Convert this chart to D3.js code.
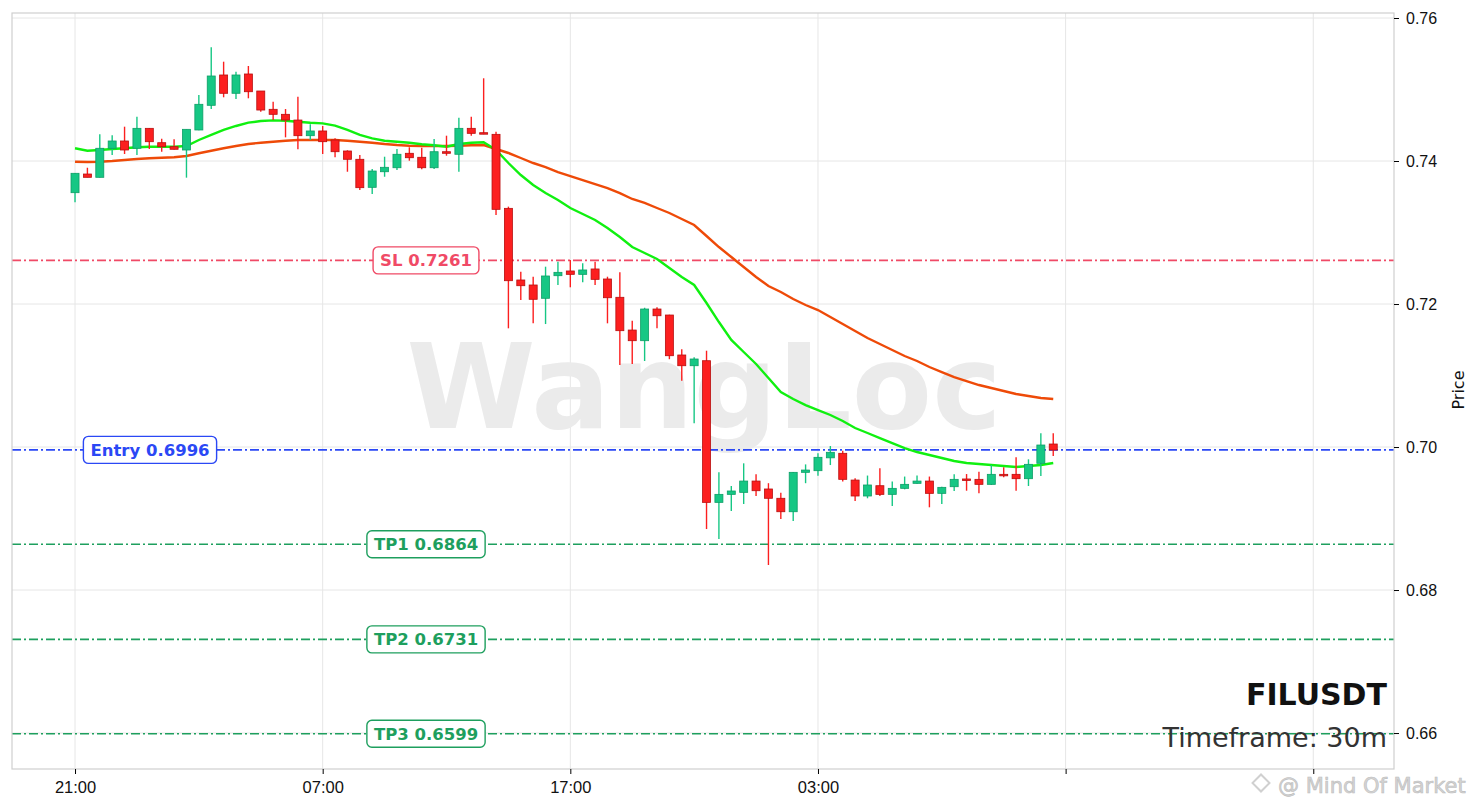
<!DOCTYPE html>
<html>
<head>
<meta charset="utf-8">
<script src="https://cdn.jsdelivr.net/npm/d3@7"></script>
<style>
  html, body { margin: 0; padding: 0; background: #ffffff; }
  svg { display: block; font-family: "DejaVu Sans", sans-serif; }
</style>
</head>
<body>
<div id="chart"></div>
<script>
///////////////////////////////////////////////////////////////////////////////////////////////////
// FILUSDT 30m candles

var opens  = [0.73557, 0.73818, 0.73772, 0.74178, 0.74280, 0.74178, 0.74457, 0.74256, 0.74200, 0.74154,
              0.74434, 0.74779, 0.75203, 0.74947, 0.75217, 0.74979, 0.74723, 0.74653, 0.74573, 0.74354,
              0.74420, 0.74294, 0.74140, 0.74024, 0.73632, 0.73850, 0.73906, 0.74108, 0.74052, 0.73906,
              0.74130, 0.74094, 0.74457, 0.74396, 0.74373, 0.73338, 0.72336, 0.72266, 0.72080, 0.72396,
              0.72462, 0.72415, 0.72490, 0.72350, 0.72094, 0.71636, 0.71487, 0.71930, 0.71846, 0.71287,
              0.71137, 0.71207, 0.69226, 0.69338, 0.69366, 0.69524, 0.69413, 0.69283, 0.69095, 0.69646,
              0.69669, 0.69849, 0.69912, 0.69538, 0.69315, 0.69459, 0.69338, 0.69422, 0.69492, 0.69524,
              0.69352, 0.69445, 0.69553, 0.69548, 0.69478, 0.69618, 0.69618, 0.69557, 0.69772, 0.70042];
var highs  = [0.73830, 0.73906, 0.74373, 0.74359, 0.74480, 0.74620, 0.74460, 0.74312, 0.74303, 0.74443,
              0.74923, 0.75590, 0.75389, 0.75249, 0.75329, 0.74980, 0.74829, 0.74727, 0.74899, 0.74513,
              0.74490, 0.74320, 0.74150, 0.74084, 0.73888, 0.74060, 0.74168, 0.74192, 0.74186, 0.74308,
              0.74354, 0.74606, 0.74620, 0.75157, 0.74410, 0.73362, 0.72452, 0.72382, 0.72522, 0.72592,
              0.72615, 0.72569, 0.72592, 0.72382, 0.72443, 0.71767, 0.71948, 0.71954, 0.71850, 0.71366,
              0.71255, 0.71347, 0.69646, 0.69455, 0.69772, 0.69618, 0.69494, 0.69361, 0.69650, 0.69757,
              0.69912, 0.70014, 0.69948, 0.69562, 0.69601, 0.69703, 0.69517, 0.69587, 0.69601, 0.69587,
              0.69445, 0.69618, 0.69622, 0.69655, 0.69748, 0.69716, 0.69856, 0.69828, 0.70191, 0.70191];
var lows   = [0.73422, 0.73772, 0.73770, 0.74084, 0.74098, 0.74084, 0.74168, 0.74130, 0.74160, 0.73767,
              0.74430, 0.74727, 0.74891, 0.74867, 0.74877, 0.74690, 0.74573, 0.74331, 0.74164, 0.74294,
              0.74098, 0.74052, 0.73850, 0.73594, 0.73538, 0.73780, 0.73874, 0.74004, 0.73884, 0.73890,
              0.74074, 0.73850, 0.74354, 0.74375, 0.73245, 0.71660, 0.72056, 0.71730, 0.71720, 0.72266,
              0.72234, 0.72304, 0.72266, 0.71730, 0.71147, 0.71161, 0.71203, 0.71660, 0.71228, 0.70927,
              0.70331, 0.68853, 0.68713, 0.69105, 0.69203, 0.69315, 0.68350, 0.68993, 0.68965, 0.69494,
              0.69599, 0.69748, 0.69517, 0.69245, 0.69283, 0.69315, 0.69175, 0.69408, 0.69485, 0.69157,
              0.69203, 0.69385, 0.69389, 0.69352, 0.69470, 0.69576, 0.69389, 0.69455, 0.69594, 0.69874];
var closes = [0.73828, 0.73772, 0.74178, 0.74280, 0.74154, 0.74457, 0.74270, 0.74200, 0.74164, 0.74443,
              0.74793, 0.75189, 0.74947, 0.75203, 0.74969, 0.74713, 0.74653, 0.74573, 0.74354, 0.74420,
              0.74270, 0.74130, 0.74024, 0.73627, 0.73860, 0.73912, 0.74094, 0.74046, 0.73906, 0.74130,
              0.74108, 0.74457, 0.74387, 0.74378, 0.73324, 0.72326, 0.72256, 0.72066, 0.72392, 0.72443,
              0.72415, 0.72476, 0.72345, 0.72088, 0.71627, 0.71487, 0.71930, 0.71836, 0.71277, 0.71137,
              0.71231, 0.69226, 0.69338, 0.69385, 0.69524, 0.69389, 0.69283, 0.69095, 0.69646, 0.69678,
              0.69856, 0.69926, 0.69548, 0.69315, 0.69469, 0.69338, 0.69422, 0.69478, 0.69524, 0.69352,
              0.69436, 0.69548, 0.69543, 0.69478, 0.69618, 0.69608, 0.69557, 0.69758, 0.70028, 0.69958];

// fast (green) and slow (orange) moving averages
var ma_fast = [0.74178, 0.74144, 0.74154, 0.74168, 0.74178, 0.74192, 0.74200, 0.74200, 0.74200, 0.74210,
               0.74294, 0.74364, 0.74434, 0.74490, 0.74536, 0.74559, 0.74569, 0.74564, 0.74550, 0.74536,
               0.74527, 0.74494, 0.74434, 0.74364, 0.74317, 0.74284, 0.74270, 0.74256, 0.74234, 0.74220,
               0.74200, 0.74238, 0.74256, 0.74262, 0.74154, 0.73972, 0.73804, 0.73664, 0.73552, 0.73455,
               0.73343, 0.73259, 0.73175, 0.73063, 0.72937, 0.72797, 0.72713, 0.72629, 0.72503, 0.72378,
               0.72266, 0.72014, 0.71748, 0.71497, 0.71329, 0.71161, 0.70965, 0.70769, 0.70671, 0.70587,
               0.70517, 0.70448, 0.70364, 0.70266, 0.70196, 0.70126, 0.70056, 0.69986, 0.69930, 0.69888,
               0.69846, 0.69804, 0.69776, 0.69762, 0.69748, 0.69734, 0.69720, 0.69734, 0.69748, 0.69776];
var ma_slow = [0.73990, 0.73986, 0.73990, 0.74000, 0.74014, 0.74028, 0.74038, 0.74046, 0.74052, 0.74070,
               0.74108, 0.74144, 0.74178, 0.74210, 0.74238, 0.74256, 0.74270, 0.74284, 0.74294, 0.74294,
               0.74294, 0.74294, 0.74284, 0.74270, 0.74256, 0.74238, 0.74224, 0.74214, 0.74210, 0.74210,
               0.74210, 0.74214, 0.74220, 0.74224, 0.74168, 0.74112, 0.74042, 0.73972, 0.73916, 0.73846,
               0.73790, 0.73734, 0.73678, 0.73622, 0.73552, 0.73469, 0.73413, 0.73343, 0.73273, 0.73189,
               0.73105, 0.72951, 0.72797, 0.72657, 0.72517, 0.72378, 0.72252, 0.72168, 0.72070, 0.71986,
               0.71916, 0.71818, 0.71720, 0.71622, 0.71524, 0.71441, 0.71357, 0.71273, 0.71203, 0.71119,
               0.71049, 0.70979, 0.70923, 0.70867, 0.70825, 0.70783, 0.70741, 0.70713, 0.70685, 0.70671];

// trade levels
var level_names  = ["SL", "Entry", "TP1", "TP2", "TP3"];
var level_prices = [0.7261, 0.6996, 0.6864, 0.6731, 0.6599];

// x axis: candle index of each tick and its label
var x_tick_index  = [0, 20, 40, 60, 80, 100];
var x_tick_labels = ["21:00", "07:00", "17:00", "03:00", "", ""];
var y_tick_values = [0.66, 0.68, 0.70, 0.72, 0.74, 0.76];

var symbol_name = "FILUSDT";
var timeframe   = "Timeframe: 30m";

///////////////////////////////////////////////////////////////////////////////////////////////////

function draw_chart(element_id) {

    var svg_width  = 1479;
    var svg_height = 809;
    var plot = { left: 12, right: 1394, top: 13, bottom: 769 };

    var color_up   = "#16c784";
    var color_up_edge = "#0d9e66";
    var color_down = "#fc1f1f";
    var color_down_edge = "#b80e0e";
    var level_colors = ["#f04a66", "#2b48f5", "#1e9f5e", "#1e9f5e", "#1e9f5e"];
    var label_x = [426, 150, 426, 426, 426];

    var svg = d3.select('#' + element_id)
      .append("svg")
        .attr("width",  svg_width)
        .attr("height", svg_height);

    var x = d3.scaleLinear()
        .domain([-5.09, 106.52])
        .range([plot.left, plot.right]);

    var y = d3.scaleLinear()
        .domain([0.65497, 0.7607])
        .range([plot.bottom, plot.top]);

    // grid
    var grid = svg.append("g");
    grid.selectAll(".vgrid")
        .data(x_tick_index)
        .join("line")
            .attr("x1", function(d) { return x(d); })
            .attr("x2", function(d) { return x(d); })
            .attr("y1", plot.top)
            .attr("y2", plot.bottom)
            .attr("stroke", "#e6e6e6")
            .attr("stroke-width", 1);
    grid.selectAll(".hgrid")
        .data(y_tick_values)
        .join("line")
            .attr("x1", plot.left)
            .attr("x2", plot.right)
            .attr("y1", function(d) { return y(d); })
            .attr("y2", function(d) { return y(d); })
            .attr("stroke", "#e6e6e6")
            .attr("stroke-width", 1);

    // watermark
    svg.append("text")
        .attr("x", 704)
        .attr("y", 428)
        .attr("text-anchor", "middle")
        .style("font-size", "117px")
        .style("font-weight", "bold")
        .style("fill", "#ebebeb")
        .text("WangLoc");

    // level lines
    svg.append("g").selectAll("line")
        .data(level_prices)
        .join("line")
            .attr("x1", plot.left)
            .attr("x2", plot.right)
            .attr("y1", function(d) { return y(d); })
            .attr("y2", function(d) { return y(d); })
            .attr("stroke", function(d, i) { return level_colors[i]; })
            .attr("stroke-width", 1.6)
            .attr("stroke-dasharray", "9,3,2,3");

    // moving averages
    var line = d3.line()
        .x(function(d, i) { return x(i); })
        .y(function(d) { return y(d); });

    svg.append("path")
        .attr("d", line(ma_slow))
        .attr("fill", "none")
        .attr("stroke", "#ee4a08")
        .attr("stroke-width", 2.4);
    svg.append("path")
        .attr("d", line(ma_fast))
        .attr("fill", "none")
        .attr("stroke", "#10f010")
        .attr("stroke-width", 2.4);

    // candles
    var body_w = 8;
    var candle = svg.append("g").selectAll("g")
        .data(d3.range(opens.length))
        .join("g");

    candle.append("line")
        .attr("x1", function(i) { return x(i); })
        .attr("x2", function(i) { return x(i); })
        .attr("y1", function(i) { return y(highs[i]); })
        .attr("y2", function(i) { return y(lows[i]); })
        .attr("stroke", function(i) { return closes[i] >= opens[i] ? color_up : color_down; })
        .attr("stroke-width", 1.4);

    candle.append("rect")
        .attr("x", function(i) { return x(i) - body_w / 2; })
        .attr("width", body_w)
        .attr("y", function(i) { return y(Math.max(opens[i], closes[i])); })
        .attr("height", function(i) {
            let h = Math.abs(y(opens[i]) - y(closes[i]));
            if (h > 1.5) { return h; }
            else { return 1.5; }
        })
        .attr("fill", function(i) { return closes[i] >= opens[i] ? color_up : color_down; })
        .attr("stroke", function(i) { return closes[i] >= opens[i] ? color_up_edge : color_down_edge; })
        .attr("stroke-width", 0.8);

    // level labels
    var tag = svg.append("g").selectAll("g")
        .data(level_prices)
        .join("g")
            .attr("transform", function(d, i) { return "translate(" + label_x[i] + "," + y(d) + ")"; });

    tag.append("text")
        .attr("text-anchor", "middle")
        .attr("dy", "0.36em")
        .style("font-size", "16.5px")
        .style("font-weight", "bold")
        .style("fill", function(d, i) { return level_colors[i]; })
        .text(function(d, i) { return level_names[i] + " " + d.toFixed(4); });

    tag.insert("rect", "text")
        .each(function() {
            let bb = this.parentNode.querySelector("text").getBBox();
            d3.select(this)
                .attr("x", bb.x - 7)
                .attr("y", -13.5)
                .attr("width", bb.width + 14)
                .attr("height", 27);
        })
        .attr("rx", 5)
        .attr("fill", "white")
        .attr("stroke", function(d, i) { return level_colors[i]; })
        .attr("stroke-width", 1.4);

    // frame
    svg.append("rect")
        .attr("x", plot.left)
        .attr("y", plot.top)
        .attr("width", plot.right - plot.left)
        .attr("height", plot.bottom - plot.top)
        .attr("fill", "none")
        .attr("stroke", "#cfcfcf")
        .attr("stroke-width", 1.2);

    // axes
    var x_axis = svg.append("g")
        .attr("transform", "translate(0," + plot.bottom + ")")
        .call(d3.axisBottom(x)
            .tickValues(x_tick_index)
            .tickSize(5)
            .tickPadding(7)
            .tickFormat(function(d, i) { return x_tick_labels[i]; }));
    x_axis.select(".domain").remove();
    x_axis.selectAll("text").style("font-size", "16.5px").style("fill", "#111");

    var y_axis = svg.append("g")
        .attr("transform", "translate(" + plot.right + ",0)")
        .call(d3.axisRight(y)
            .tickValues(y_tick_values)
            .tickSize(5)
            .tickPadding(7)
            .tickFormat(d3.format(".2f")));
    y_axis.select(".domain").remove();
    y_axis.selectAll("text").style("font-size", "16px").style("fill", "#111");

    svg.append("text")
        .attr("transform", "translate(1464,390) rotate(-90)")
        .attr("text-anchor", "middle")
        .style("font-size", "16px")
        .style("fill", "#111")
        .text("Price");

    // symbol + timeframe
    svg.append("text")
        .attr("x", 1387)
        .attr("y", 705)
        .attr("text-anchor", "end")
        .style("font-size", "30px")
        .style("font-weight", "bold")
        .style("fill", "#111")
        .text(symbol_name);
    svg.append("text")
        .attr("x", 1387)
        .attr("y", 747)
        .attr("text-anchor", "end")
        .style("font-size", "27px")
        .style("fill", "#333")
        .text(timeframe);

    // source stamp at the bottom right
    svg.append("rect")
        .attr("x", 1255)
        .attr("y", 777)
        .attr("width", 12)
        .attr("height", 12)
        .attr("transform", "rotate(45,1261,783)")
        .attr("fill", "none")
        .attr("stroke", "#d0d0d0")
        .attr("stroke-width", 2);
    svg.append("text")
        .attr("x", 1278)
        .attr("y", 793)
        .style("font-size", "21px")
        .style("fill", "#d4d4d4")
        .style("stroke", "#bdbdbd")
        .style("stroke-width", 0.6)
        .text("@ Mind Of Market");

} // end function

draw_chart("chart");
</script>
</body>
</html>
